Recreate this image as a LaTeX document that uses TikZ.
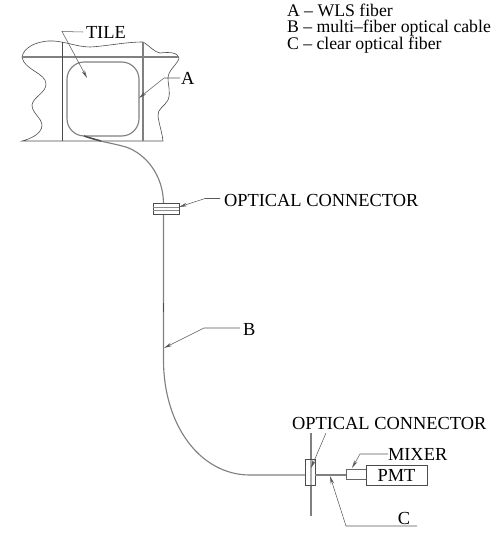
\documentclass[tikz,border=0pt]{standalone}
\usepackage{fontspec}
\setmainfont{Liberation Serif}
\usetikzlibrary{arrows.meta}
\tikzset{
  thinline/.style={draw=black!70,line width=0.45pt},
  fiber/.style={draw=black!50,line width=0.85pt},
  leader/.style={draw=black!65,line width=0.4pt,-{Stealth[length=6pt,width=2.6pt]}},
  lab/.style={inner sep=0pt,outer sep=0pt,font=\fontsize{13.8pt}{14pt}\selectfont,text=black},
  leg/.style={inner sep=0pt,outer sep=0pt,anchor=west,font=\fontsize{13.3pt}{14pt}\selectfont,text=black}
}
\begin{document}
\begin{tikzpicture}[x=0.75pt,y=-0.75pt]
\useasboundingbox (0,0) rectangle (498,539);
% legend
\node[leg] (la) at (287,10) {A -- WLS fiber};
\node[leg] (lb) at (287,28) {B -- multi--fiber optical cable};
\node[leg] (lc) at (287,45) {C -- clear optical fiber};
% plate outline
\draw[thinline] (22,57) .. controls (24,47) and (36,42) .. (48,41)
  .. controls (62,40) and (76,47) .. (90,47)
  .. controls (108,46) and (125,42) .. (143,42)
  .. controls (150,46) and (154,52) .. (160,53)
  .. controls (168,52) and (178,52) .. (179,58)
  .. controls (178,64) and (168,70) .. (168,78)
  .. controls (168,86) and (171,92) .. (168,100)
  .. controls (165,106) and (157,109) .. (158,116)
  .. controls (159,124) and (162,132) .. (163,141)
  -- (22,141)
  .. controls (30,139) and (42,134) .. (42,125)
  .. controls (41,117) and (32,113) .. (32,105)
  .. controls (33,97) and (46,93) .. (46,84)
  .. controls (46,73) and (24,70) .. (22,57);
\draw[fiber] (22,57) -- (179,57);
\draw[thinline] (62.5,42) -- (62.5,141);
\draw[fiber] (143,42) -- (143,141);
\draw[fiber,rounded corners=13pt] (67,62) rectangle (139,136);
% fiber run
\coordinate (fstart) at (84,136);
\draw[fiber] (fstart) .. controls (96,141) and (112,143) .. (126,147)
  .. controls (146,154) and (163,175) .. (163.5,203) -- (163.5,360)
  .. controls (163.5,425) and (200,475) .. (250,475) -- (305,475);
\draw[line width=1pt,black!70] (84,136) -- (101,141);
\draw[line width=1.2pt,black!70] (163.5,303) -- (163.5,312);
% upper connector
\node[draw=black!70,line width=0.5pt,fill=white,minimum width=19.5pt,minimum height=8.25pt,inner sep=0pt] (c1) at (166,208.5) {};
\draw[draw=black!45,line width=0.5pt] (153,207.5) -- (179,207.5) (153,210) -- (179,210);
% lower connector
\draw[fiber] (311,433) -- (311,516);
\node[draw=black!70,line width=0.5pt,fill=white,fill opacity=0.35,minimum width=7.5pt,minimum height=19.5pt,inner sep=0pt] (c2) at (310,472) {};
% mixer, pmt
\node[draw=black!60,line width=0.5pt,minimum width=15pt,minimum height=7.5pt,inner sep=0pt] (mix) at (356,474) {};
\node[draw=black!70,line width=0.6pt,minimum width=45.75pt,minimum height=15pt,inner sep=0pt,font=\fontsize{13.8pt}{14pt}\selectfont] (pmt) at (396.5,475) {PMT};
\draw[fiber] (c2.east |- 0,475) -- (mix.west |- 0,475);
% labels
\node[lab,anchor=west] (tile) at (86,32) {TILE};
\node[lab,anchor=west] (a) at (181,78) {A};
\node[lab,anchor=west] (oc1) at (224,200) {OPTICAL CONNECTOR};
\node[lab,anchor=west] (b) at (243,329) {B};
\node[lab,anchor=west] (oc2) at (292,423) {OPTICAL CONNECTOR};
\node[lab,anchor=west] (mx) at (388,454) {MIXER};
\node[lab] (cl) at (404,518) {C};
% leaders
\coordinate (t1) at (87,78);
\coordinate (t2) at (139,98);
\coordinate (t3) at (179,207);
\coordinate (t4) at (164,348);
\coordinate (t5) at (311,468);
\coordinate (t6) at (352,468);
\coordinate (t7) at (330,476);
\coordinate (cr) at (417,526);
\draw[leader] (tile.west) ++(-3,0) -- (62,31.5) -- (t1);
\draw[leader] (a.west) ++(-1,0) -- (164,78) -- (t2);
\draw[leader] (oc1.west) ++(-4,-1.5) -- (205,198.5) -- (t3);
\draw[leader] (b.west) ++(-3,-1) -- (204,328) -- (t4);
\draw[leader] (326,433) -- (t5);
\draw[leader] (mx.west) -- (360,454) -- (t6);
\draw[leader] (cr) -- (346,526) -- (t7);
\end{tikzpicture}
\end{document}
